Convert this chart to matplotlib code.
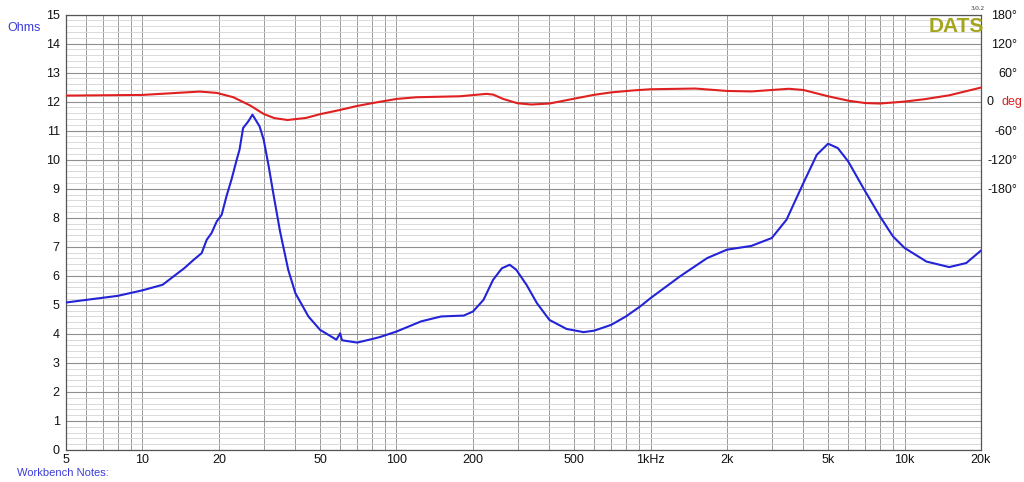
import matplotlib.pyplot as plt
import numpy as np
from matplotlib.ticker import FixedLocator, NullFormatter, LogLocator

plt.rcParams['font.family'] = ['Liberation Sans', 'DejaVu Sans']

# impedance (Ohm)
imp_freq = [5, 6, 8, 10, 12, 14.6, 15.9, 17.1, 17.9, 18.7, 19.6, 20.5, 21.4, 22.4, 23.5,
            24.1, 24.9, 26.1, 27.1, 28.9, 30, 31.4, 32.9, 34.8, 37.5, 40, 45, 50, 58, 60,
            61, 70, 80, 86, 100, 125, 150, 184, 200, 220, 240, 260, 279, 296, 325,
            357, 400, 467, 545, 600, 700, 800, 909, 1000, 1306, 1671, 2000, 2495, 3000, 3430,
            4000, 4516, 5000, 5460, 6000, 7000, 8000, 9000, 10000, 12200, 15000, 17500, 20000]
imp_ohm = [5.08, 5.17, 5.31, 5.5, 5.69, 6.26, 6.55, 6.78, 7.24, 7.47, 7.87, 8.1, 8.73, 9.31, 10.0,
           10.34, 11.09, 11.32, 11.55, 11.15, 10.69, 9.77, 8.73, 7.53, 6.2, 5.4, 4.6, 4.14, 3.8, 4.02,
           3.78, 3.7, 3.82, 3.89, 4.08, 4.43, 4.6, 4.63, 4.77, 5.17, 5.86, 6.26, 6.38, 6.21, 5.69,
           5.06, 4.48, 4.17, 4.06, 4.11, 4.31, 4.6, 4.94, 5.23, 5.98, 6.61, 6.9, 7.03, 7.3, 7.93,
           9.2, 10.17, 10.55, 10.4, 9.94, 8.91, 8.05, 7.36, 6.96, 6.49, 6.3, 6.44, 6.87]

# phase (degrees)
ph_freq = [5, 10, 16.8, 19.6, 22.8, 26.6, 30, 33, 37.2, 44, 50, 60, 70, 81, 100,
           120, 178, 226, 240, 263, 300, 340, 400, 500, 600, 700, 850, 1000, 1500, 2000,
           2500, 3000, 3500, 4000, 5000, 6000, 7000, 8000, 10000, 12000, 15000, 20000]
ph_deg = [12.4, 13.8, 20.7, 18, 9, -8.3, -25.5, -34, -38, -33.8, -26, -17.2, -9, -2.8, 5.5,
          9, 11, 16, 14.5, 5.5, -3.5, -6, -4, 6, 14, 19, 23, 25.5, 27, 22,
          21, 24, 26.5, 24, 11, 2, -3, -4, 0, 5, 13, 29]

x_ticks = [5, 10, 20, 50, 100, 200, 500, 1000, 2000, 5000, 10000, 20000]
x_labels = ['5', '10', '20', '50', '100', '200', '500', '1kHz', '2k', '5k', '10k', '20k']
ph_ticks = [-180, -120, -60, 0, 60, 120, 180]
ph_labels = ['-180°', '-120°', '-60°', '', '60°', '120°', '180°']

W, H = 1024, 482
fig = plt.figure(figsize=(W / 100, H / 100), dpi=100)
ax = fig.add_axes([66 / W, 1 - 450 / H, 915 / W, 435.5 / H])

ax.set_xscale('log')
ax.set_xlim(5, 20000)
ax.set_ylim(0, 15)

ax.xaxis.set_major_locator(FixedLocator(x_ticks))
ax.set_xticklabels(x_labels)
ax.xaxis.set_minor_locator(LogLocator(base=10, subs=np.arange(1, 10)))
ax.xaxis.set_minor_formatter(NullFormatter())
ax.set_yticks(np.arange(0, 16, 1))
ax.set_yticks(np.arange(0, 15.01, 0.2), minor=True)

ax.grid(True, axis='x', which='both', color='#999999', lw=0.7)
ax.grid(True, axis='y', which='major', color='#8f8f8f', lw=0.8)
ax.grid(True, axis='y', which='minor', color='#d4d4d4', lw=0.6)
ax.set_axisbelow(True)
ax.tick_params(which='both', length=0, labelsize=9, colors='#111111')
ax.tick_params(axis='y', pad=4.5)
ax.tick_params(axis='x', pad=3)
for s in ax.spines.values():
    s.set_color('#555555')
    s.set_linewidth(0.9)

ax.plot(imp_freq, imp_ohm, color='#2323d8', lw=1.5, zorder=3)

ax2 = ax.twinx()
ax2.set_ylim(-720, 180)
ax2.set_yticks(ph_ticks)
ax2.set_yticklabels(ph_labels, ha='right')
ax2.tick_params(length=0, labelsize=9, pad=26, colors='#111111')
for s in ax2.spines.values():
    s.set_visible(False)
ax2.plot(ph_freq, ph_deg, color='#e02020', lw=1.5, zorder=3)
ax2.text(1 + 6 / 915, 0, '0', transform=ax2.get_yaxis_transform(),
         ha='left', va='center', fontsize=9, color='#111111')
ax2.text(1 + 20 / 915, 0, 'deg', transform=ax2.get_yaxis_transform(),
         ha='left', va='center', fontsize=9, color='#e02020')

fig.text(7 / W, 1 - 28 / H, 'Ohms', color='#3c3cdc', fontsize=9, va='center')
fig.text(17 / W, 1 - 473 / H, 'Workbench Notes:', color='#3c3cdc', fontsize=8, va='center')
fig.text(984 / W, 1 - 26 / H, 'DATS', color='#a5a51c', fontsize=15, fontweight='bold',
         ha='right', va='center')
fig.text(978 / W, 1 - 9 / H, '3.0.2', family='Liberation Serif', fontsize=5,
         ha='center', va='center', color='#222222')

fig.savefig('out.png', dpi=100)
